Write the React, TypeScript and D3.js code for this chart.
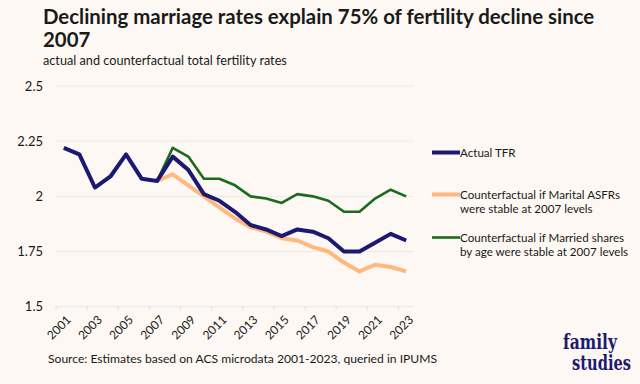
import * as React from 'react';
import * as d3 from 'd3';

// years on the category axis
const years = d3.range(2001, 2024).map(String);

// actual TFR
const actualTFR = [
  2.22, 2.19, 2.04, 2.09, 2.19, 2.08, 2.07, 2.18, 2.12, 2.01, 1.98, 1.93,
  1.87, 1.85, 1.82, 1.85, 1.84, 1.81, 1.75, 1.75, 1.79, 1.83, 1.8,
];

// counterfactual, marital ASFRs held at 2007 (starts in 2007)
const maritalASFR = [
  2.07, 2.1, 2.05, 2.0, 1.95, 1.9, 1.86, 1.84, 1.81, 1.8, 1.77, 1.75, 1.7,
  1.66, 1.69, 1.68, 1.66,
];

// counterfactual, married shares held at 2007 (starts in 2007)
const marriedShares = [
  2.07, 2.22, 2.18, 2.08, 2.08, 2.05, 2.0, 1.99, 1.97, 2.01, 2.0, 1.98, 1.93,
  1.93, 1.99, 2.03, 2.0,
];

const yTicks = [1.5, 1.75, 2, 2.25, 2.5];

interface Series {
  name: string[];
  color: string;
  width: number;
  start: string;
  values: number[];
}

const series: Series[] = [
  { name: ['Actual TFR'], color: '#1c1a70', width: 4, start: '2001', values: actualTFR },
  {
    name: ['Counterfactual if Marital ASFRs', 'were stable at 2007 levels'],
    color: '#ffb87e',
    width: 4,
    start: '2007',
    values: maritalASFR,
  },
  {
    name: ['Counterfactual if Married shares', 'by age were stable at 2007 levels'],
    color: '#1b6b1e',
    width: 2.6,
    start: '2007',
    values: marriedShares,
  },
];

const W = 640;
const H = 384;
const FONT = 'Lato, "Noto Sans", sans-serif';

export default function App() {
  const x = d3.scaleBand<string>().domain(years).range([56, 414]);
  const y = d3.scaleLinear().domain([1.5, 2.5]).range([306.7, 86]);
  const cx = (yr: string) => (x(yr) ?? 0) + x.bandwidth() / 2;

  const line = d3
    .line<[string, number]>()
    .x((d) => cx(d[0]))
    .y((d) => y(d[1]));

  const legendY = [152.5, 194.5, 237.5];

  return (
    <svg
      width={W}
      height={H}
      style={{ position: 'absolute', left: 0, top: 0, background: '#fdf8f3' }}
      fontFamily={FONT}
    >
      <rect width={W} height={H} fill="#fdf8f3" />

      {/* titles */}
      <text x={43} y={24} fontSize={20.4} fontWeight={700} fill="#1a1a1a">
        Declining marriage rates explain 75% of fertility decline since
      </text>
      <text x={43} y={47} fontSize={20.4} fontWeight={700} fill="#1a1a1a">
        2007
      </text>
      <text x={43} y={65} fontSize={12.7} fill="#1a1a1a">
        actual and counterfactual total fertility rates
      </text>

      {/* grid + y labels */}
      {yTicks.map((t) => (
        <g key={t}>
          <line x1={56} x2={414} y1={y(t)} y2={y(t)} stroke="#e9e9ec" strokeWidth={1} />
          <text x={43} y={y(t)} dy="0.35em" textAnchor="end" fontSize={13} fill="#1a1a1a">
            {d3.format('~g')(t)}
          </text>
        </g>
      ))}

      {/* x ticks and labels */}
      {years.map((yr, i) =>
        i % 2 === 0 ? (
          <g key={yr}>
            <line
              x1={x(yr)}
              x2={x(yr)}
              y1={y(1.5)}
              y2={y(1.5) + 4}
              stroke="#e0e0e4"
            />
            <text
              transform={`translate(${cx(yr) + 2},${y(1.5) + 8}) rotate(-45)`}
              textAnchor="end"
              dy="0.7em"
              fontSize={12}
              fill="#1a1a1a"
            >
              {yr}
            </text>
          </g>
        ) : null
      )}

      {/* lines: draw orange, green, then navy on top */}
      {[series[1], series[2], series[0]].map((s) => {
        const start = years.indexOf(s.start);
        const pts = s.values.map((v, i) => [years[start + i], v] as [string, number]);
        return (
          <path
            key={s.color}
            d={line(pts) || undefined}
            fill="none"
            stroke={s.color}
            strokeWidth={s.width}
            strokeLinejoin="round"
          />
        );
      })}

      {/* legend */}
      {series.map((s, i) => (
        <g key={s.color}>
          <line
            x1={432}
            x2={460}
            y1={legendY[i]}
            y2={legendY[i]}
            stroke={s.color}
            strokeWidth={s.width}
          />
          {s.name.map((t, j) => (
            <text
              key={t}
              x={460}
              y={legendY[i] + j * 14.5}
              dy="0.35em"
              fontSize={11.6}
              fill="#1a1a1a"
            >
              {t}
            </text>
          ))}
        </g>
      ))}

      {/* source */}
      <text x={48} y={363} fontSize={12.1} fill="#1a1a1a">
        Source: Estimates based on ACS microdata 2001-2023, queried in IPUMS
      </text>

      {/* logo */}
      <g fontFamily='"DejaVu Serif", serif' fontWeight={700} fill="#1c1a70">
        <text x={563} y={349} fontSize={20} textLength={54} lengthAdjust="spacingAndGlyphs">
          family
        </text>
        <text x={572} y={370} fontSize={20} textLength={59} lengthAdjust="spacingAndGlyphs">
          studies
        </text>
      </g>
    </svg>
  );
}
